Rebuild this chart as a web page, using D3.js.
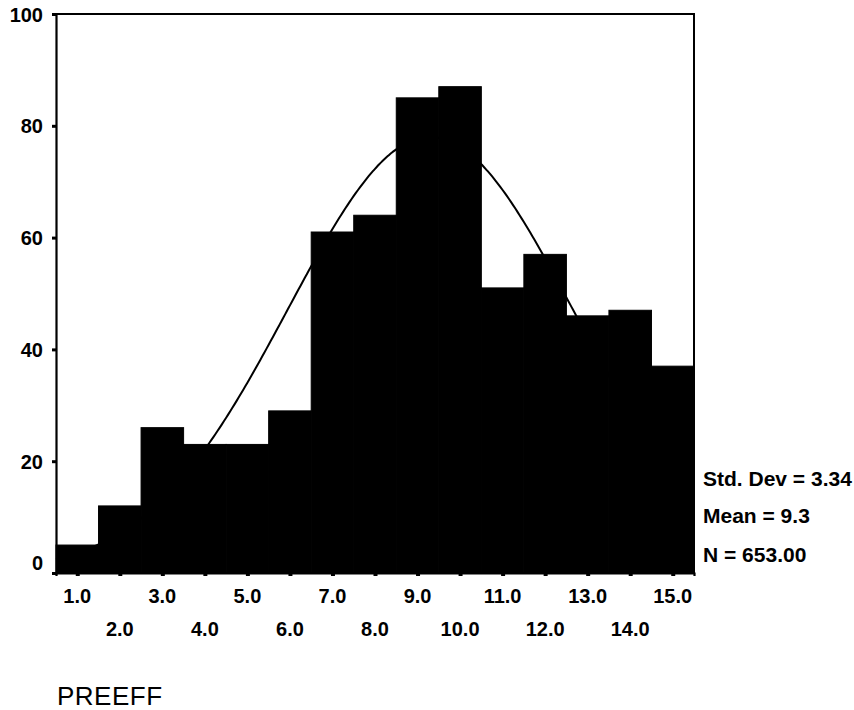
<!DOCTYPE html>
<html>
<head>
<meta charset="utf-8">
<script src="https://cdn.jsdelivr.net/npm/d3@7"></script>
<style>
  body { margin: 0; background: #fff; }
  svg { display: block; }
  text { font-family: "Liberation Sans", Arial, sans-serif; fill: #000; }
</style>
</head>
<body>
<svg id="chart" width="854" height="710"></svg>
<script>
// histogram of PREEFF, bins of width 1 centred on 1..15
const bins = [1, 2, 3, 4, 5, 6, 7, 8, 9, 10, 11, 12, 13, 14, 15];
const counts = [5, 12, 26, 23, 23, 29, 61, 64, 85, 87, 51, 57, 46, 47, 37];
const yTicks = [0, 20, 40, 60, 80, 100];
const xTickLabels = ["1.0", "2.0", "3.0", "4.0", "5.0", "6.0", "7.0", "8.0",
                     "9.0", "10.0", "11.0", "12.0", "13.0", "14.0", "15.0"];
const statLabels = ["Std. Dev = 3.34", "Mean = 9.3", "N = 653.00"];
const stdDev = 3.34, mean = 9.3, n = 653, binWidth = 1;
const varName = "PREEFF";

const svg = d3.select("#chart");
const plotLeft = 56, plotRight = 694, plotTop = 14, plotBottom = 573;

const x = d3.scaleLinear().domain([0.5, 15.5]).range([plotLeft, plotRight]);
const y = d3.scaleLinear().domain([0, 100]).range([plotBottom, plotTop]);

// bars (thin stroke hides the seams between neighbours)
svg.append("g")
  .selectAll("rect")
  .data(bins)
  .join("rect")
  .attr("x", d => x(d - binWidth / 2))
  .attr("y", (d, i) => y(counts[i]))
  .attr("width", d => x(d + binWidth / 2) - x(d - binWidth / 2))
  .attr("height", (d, i) => y(0) - y(counts[i]))
  .attr("fill", "#000")
  .attr("stroke", "#000")
  .attr("stroke-width", 1);

// fitted normal curve from the reported statistics
const curveX = d3.range(0.5, 15.5001, 0.05);
const normal = v => n * binWidth * Math.exp(-0.5 * ((v - mean) / stdDev) ** 2) / (stdDev * Math.sqrt(2 * Math.PI));
svg.append("path")
  .datum(curveX)
  .attr("d", d3.line().x(d => x(d)).y(d => y(normal(d))).curve(d3.curveBasis))
  .attr("fill", "none")
  .attr("stroke", "#000")
  .attr("stroke-width", 2);

// frame: top and right
svg.append("path")
  .attr("d", `M${plotLeft},${plotTop}H${plotRight}V${plotBottom}`)
  .attr("fill", "none")
  .attr("stroke", "#000")
  .attr("stroke-width", 2);

// y axis
const yAxis = svg.append("g")
  .attr("transform", `translate(${plotLeft},0)`)
  .call(d3.axisLeft(y).tickValues(yTicks).tickSize(4).tickPadding(9).tickFormat(d3.format("d")));
yAxis.select(".domain").attr("stroke-width", 2.2);
yAxis.selectAll(".tick line").attr("stroke-width", 3);
yAxis.selectAll(".tick text")
  .style("font-size", "20px")
  .style("font-weight", "bold")
  .attr("dy", d => d === 0 ? "-0.2em" : "0.35em");

// x axis
const xAxis = svg.append("g")
  .attr("transform", `translate(0,${plotBottom})`)
  .call(d3.axisBottom(x).tickValues(bins).tickSize(3).tickFormat(""));
xAxis.select(".domain").attr("stroke-width", 2.2);
xAxis.selectAll(".tick line").attr("stroke-width", 4);

// staggered x tick labels
svg.append("g")
  .selectAll("text")
  .data(bins)
  .join("text")
  .attr("x", d => x(d))
  .attr("y", (d, i) => i % 2 === 0 ? 603 : 636)
  .attr("text-anchor", "middle")
  .style("font-size", "20px")
  .style("font-weight", "bold")
  .text((d, i) => xTickLabels[i]);

// statistics
svg.append("g")
  .selectAll("text")
  .data(statLabels)
  .join("text")
  .attr("x", 703)
  .attr("y", (d, i) => [486, 523, 562][i])
  .style("font-size", "21px")
  .style("font-weight", "bold")
  .text(d => d);

// variable name
svg.append("text")
  .attr("x", 57)
  .attr("y", 705)
  .style("font-size", "26px")
  .style("letter-spacing", "0.5px")
  .text(varName);
</script>
</body>
</html>
